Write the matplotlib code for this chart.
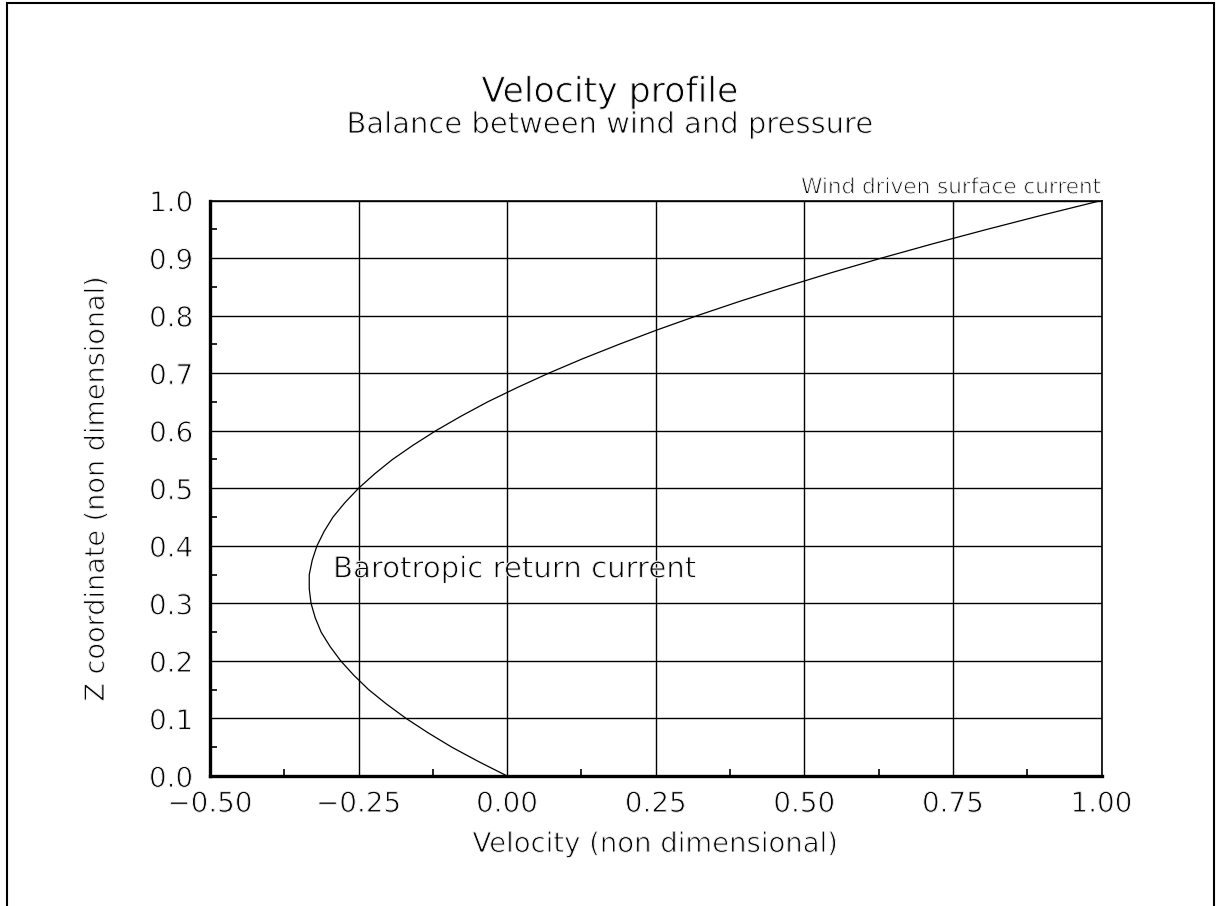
import matplotlib
matplotlib.use('Agg')
import matplotlib.pyplot as plt
import matplotlib.patheffects as pe
from matplotlib.patches import Rectangle
from matplotlib.ticker import MultipleLocator

# velocity profile: wind stress balanced by the pressure gradient
z = [0.0, 0.025, 0.05, 0.075, 0.10, 0.125, 0.15, 0.175, 0.20, 0.225, 0.25,
     0.275, 0.30, 0.325, 0.35, 0.375, 0.40, 0.425, 0.45, 0.475, 0.50,
     0.525, 0.55, 0.575, 0.60, 0.625, 0.65, 0.675, 0.70, 0.725, 0.75,
     0.775, 0.80, 0.825, 0.85, 0.875, 0.90, 0.925, 0.95, 0.975, 1.0]
u = [0.0, -0.048, -0.093, -0.133, -0.17, -0.203, -0.233, -0.258, -0.28, -0.298, -0.313,
     -0.323, -0.33, -0.333, -0.333, -0.328, -0.32, -0.308, -0.293, -0.273, -0.25,
     -0.223, -0.193, -0.158, -0.12, -0.078, -0.033, 0.017, 0.07, 0.127, 0.188,
     0.252, 0.32, 0.392, 0.468, 0.547, 0.63, 0.717, 0.808, 0.902, 1.0]

x_ticks = [-0.50, -0.25, 0.00, 0.25, 0.50, 0.75, 1.00]
y_ticks = [0.0, 0.1, 0.2, 0.3, 0.4, 0.5, 0.6, 0.7, 0.8, 0.9, 1.0]

plt.rcParams['font.family'] = ['DejaVu Sans']

# thin the glyph strokes so the lettering looks like plotter text
thin = [pe.Normal(), pe.Stroke(linewidth=0.7, foreground='white')]

W, H = 1216, 906
fig = plt.figure(figsize=(W / 100, H / 100), dpi=100)
ax = fig.add_axes([210 / W, 1 - 776 / H, 891.5 / W, 575.5 / H])

ax.plot(u, z, color='black', linewidth=0.9, zorder=3)

ax.set_xlim(-0.5, 1.0)
ax.set_ylim(0.0, 1.0)
ax.set_xticks(x_ticks)
ax.set_xticklabels([('%.2f' % v).replace('-', '\u2212') for v in x_ticks])
ax.set_yticks(y_ticks)
ax.set_yticklabels(['%.1f' % v for v in y_ticks])
ax.xaxis.set_minor_locator(MultipleLocator(0.125))
ax.yaxis.set_minor_locator(MultipleLocator(0.05))
ax.tick_params(which='major', length=0, labelsize=20, pad=10)
ax.tick_params(axis='y', which='major', pad=12)
ax.tick_params(which='minor', direction='in', length=5, width=1.2, color='black')
ax.grid(True, which='major', color='black', linewidth=1.0)

for side in ['left', 'bottom']:
    ax.spines[side].set_linewidth(2.4)
for side in ['top', 'right']:
    ax.spines[side].set_linewidth(1.2)

ax.set_xlabel('Velocity (non dimensional)', fontsize=19.8, path_effects=thin)
ax.set_ylabel('Z coordinate (non dimensional)', fontsize=19.5, path_effects=thin)
ax.xaxis.set_label_coords(0.5, -(830 - 776) / 575.5)
ax.yaxis.set_label_coords(-(210 - 110) / 891.5, 0.5)
for lab in ax.get_xticklabels() + ax.get_yticklabels():
    lab.set_path_effects(thin)

ax.text(1.0, 1.0 + 7 / 575.5, 'Wind driven surface current', fontsize=15.5,
        ha='right', va='baseline', transform=ax.transAxes, path_effects=thin)
ax.text(-0.293, 0.345, 'Barotropic return current', fontsize=21,
        ha='left', va='baseline', path_effects=thin)

fig.text(610 / W, 1 - 102 / H, 'Velocity profile', fontsize=25,
         ha='center', va='baseline', path_effects=thin)
fig.text(610 / W, 1 - 133 / H, 'Balance between wind and pressure', fontsize=20.9,
         ha='center', va='baseline', path_effects=thin)

# frame round the whole page
fig.add_artist(Rectangle((7 / W, -0.02), 1207 / W, 1.02 - 3 / H,
                         transform=fig.transFigure, fill=False,
                         edgecolor='black', linewidth=1.5))

fig.savefig('out.png', dpi=100, facecolor='white')
